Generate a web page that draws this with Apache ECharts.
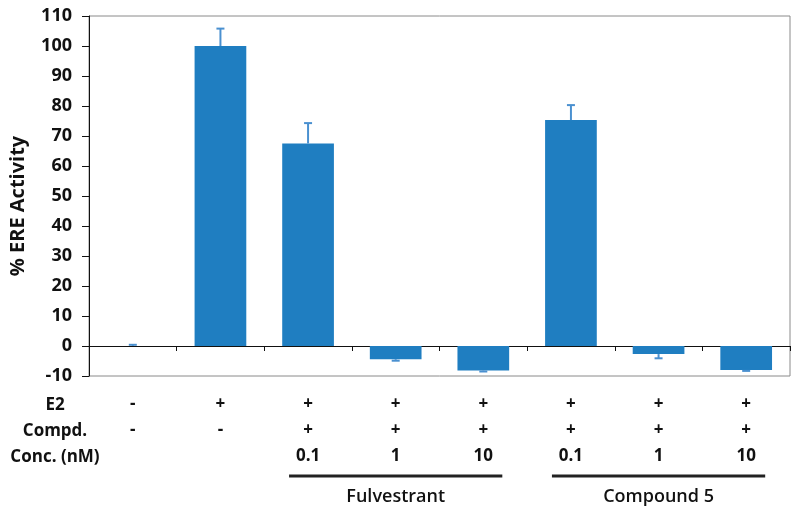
<!DOCTYPE html>
<html>
<head>
<meta charset="utf-8">
<script src="https://cdn.jsdelivr.net/npm/echarts@6/dist/echarts.min.js"></script>
<style>
  html, body { margin: 0; padding: 0; background: #fff; }
  #chart { width: 800px; height: 509px; }
</style>
</head>
<body>
<div id="chart"></div>
<script>
// conditions, left to right
const categories = ["Vehicle", "E2", "Fulv 0.1", "Fulv 1", "Fulv 10", "Cpd5 0.1", "Cpd5 1", "Cpd5 10"];
const activity = [0, 100, 67.5, -4.4, -8.2, 75.3, -2.7, -8.0];
const errors = [0.4, 5.8, 6.8, 0.5, 0.3, 5.0, 1.4, 0.3];

const e2Row = ["-", "+", "+", "+", "+", "+", "+", "+"];
const compdRow = ["-", "-", "+", "+", "+", "+", "+", "+"];
const concRow = ["", "", "0.1", "1", "10", "0.1", "1", "10"];
const rowLabels = ["E2", "Compd.", "Conc. (nM)"];

const groups = [
  { name: "Fulvestrant", from: 2, to: 4, mid: 3 },
  { name: "Compound 5", from: 5, to: 7, mid: 6 },
];

const yMin = -10, yMax = 110, yStep = 10;

const barColor = "#1F7EC1";
const errColor = "#4A90D0";
const font = "'Open Sans', 'Noto Sans', sans-serif";

const chart = echarts.init(document.getElementById("chart"));

const rowAxis = (data, offset) => ({
  type: "category",
  data: data,
  position: "bottom",
  offset: offset,
  axisLine: { show: false, onZero: false },
  axisTick: { show: false },
  axisLabel: {
    interval: 0,
    margin: 0,
    color: "#111",
    fontSize: 17,
    fontWeight: "bold",
    fontFamily: font,
  },
});

const option = {
  animation: false,
  grid: {
    left: 89,
    right: 10,
    top: 16,
    bottom: 133,
    show: true,
    borderColor: "#8a8a8a",
    borderWidth: 1,
  },
  xAxis: [
    {
      type: "category",
      data: categories,
      axisLine: { onZero: true, lineStyle: { color: "#111", width: 1 } },
      axisTick: { show: true, interval: 0, length: 5, lineStyle: { color: "#111" } },
      axisLabel: { show: false },
      splitLine: { show: false },
    },
    rowAxis(e2Row, 20),
    rowAxis(compdRow, 46),
    rowAxis(concRow, 72),
  ],
  yAxis: {
    type: "value",
    min: yMin,
    max: yMax,
    interval: yStep,
    name: "% ERE Activity",
    nameLocation: "middle",
    nameGap: 61,
    nameTextStyle: {
      fontSize: 20,
      fontWeight: "bold",
      color: "#111",
      fontFamily: font,
      padding: [0, 20, 0, 0],
    },
    axisLine: { show: true, lineStyle: { color: "#111" } },
    axisTick: { show: true, length: 7, lineStyle: { color: "#111" } },
    axisLabel: { fontSize: 18, fontWeight: "bold", color: "#111", margin: 17, fontFamily: font },
    splitLine: { show: false },
  },
  series: [
    {
      type: "bar",
      data: activity,
      barWidth: "59%",
      itemStyle: { color: barColor },
    },
    {
      type: "custom",
      data: activity.map((v, i) => [i, v, errors[i]]),
      z: 3,
      renderItem: (params, api) => {
        const i = api.value(0);
        const v = api.value(1);
        const e = api.value(2);
        if (!e) return null;
        const end = v >= 0 ? v + e : v - e;
        const p0 = api.coord([i, v]);
        const p1 = api.coord([i, end]);
        const cap = 4;
        const style = { stroke: errColor, lineWidth: 2 };
        return {
          type: "group",
          children: [
            { type: "line", shape: { x1: p0[0], y1: p0[1], x2: p1[0], y2: p1[1] }, style },
            { type: "line", shape: { x1: p1[0] - cap, y1: p1[1], x2: p1[0] + cap, y2: p1[1] }, style },
          ],
        };
      },
    },
  ],
};

chart.setOption(option);

// row labels and group underlines below the table
const rowY = [405, 431, 457];
const graphics = rowLabels.map((t, k) => ({
  type: "text",
  x: 55,
  y: rowY[k],
  style: {
    text: t,
    textAlign: "center",
    textVerticalAlign: "middle",
    fontSize: 17,
    fontWeight: "bold",
    fill: "#111",
    fontFamily: font,
  },
}));

groups.forEach((g) => {
  const x1 = chart.convertToPixel({ xAxisIndex: 0 }, g.from) - 19;
  const x2 = chart.convertToPixel({ xAxisIndex: 0 }, g.to) + 19;
  const xm = chart.convertToPixel({ xAxisIndex: 0 }, g.mid);
  graphics.push({
    type: "line",
    shape: { x1: x1, y1: 476, x2: x2, y2: 476 },
    style: { stroke: "#222", lineWidth: 3 },
  });
  graphics.push({
    type: "text",
    x: xm,
    y: 497,
    style: {
      text: g.name,
      textAlign: "center",
      textVerticalAlign: "middle",
      fontSize: 18,
      fontWeight: 600,
      fill: "#111",
      fontFamily: font,
    },
  });
});

chart.setOption({ graphic: graphics });
</script>
</body>
</html>
